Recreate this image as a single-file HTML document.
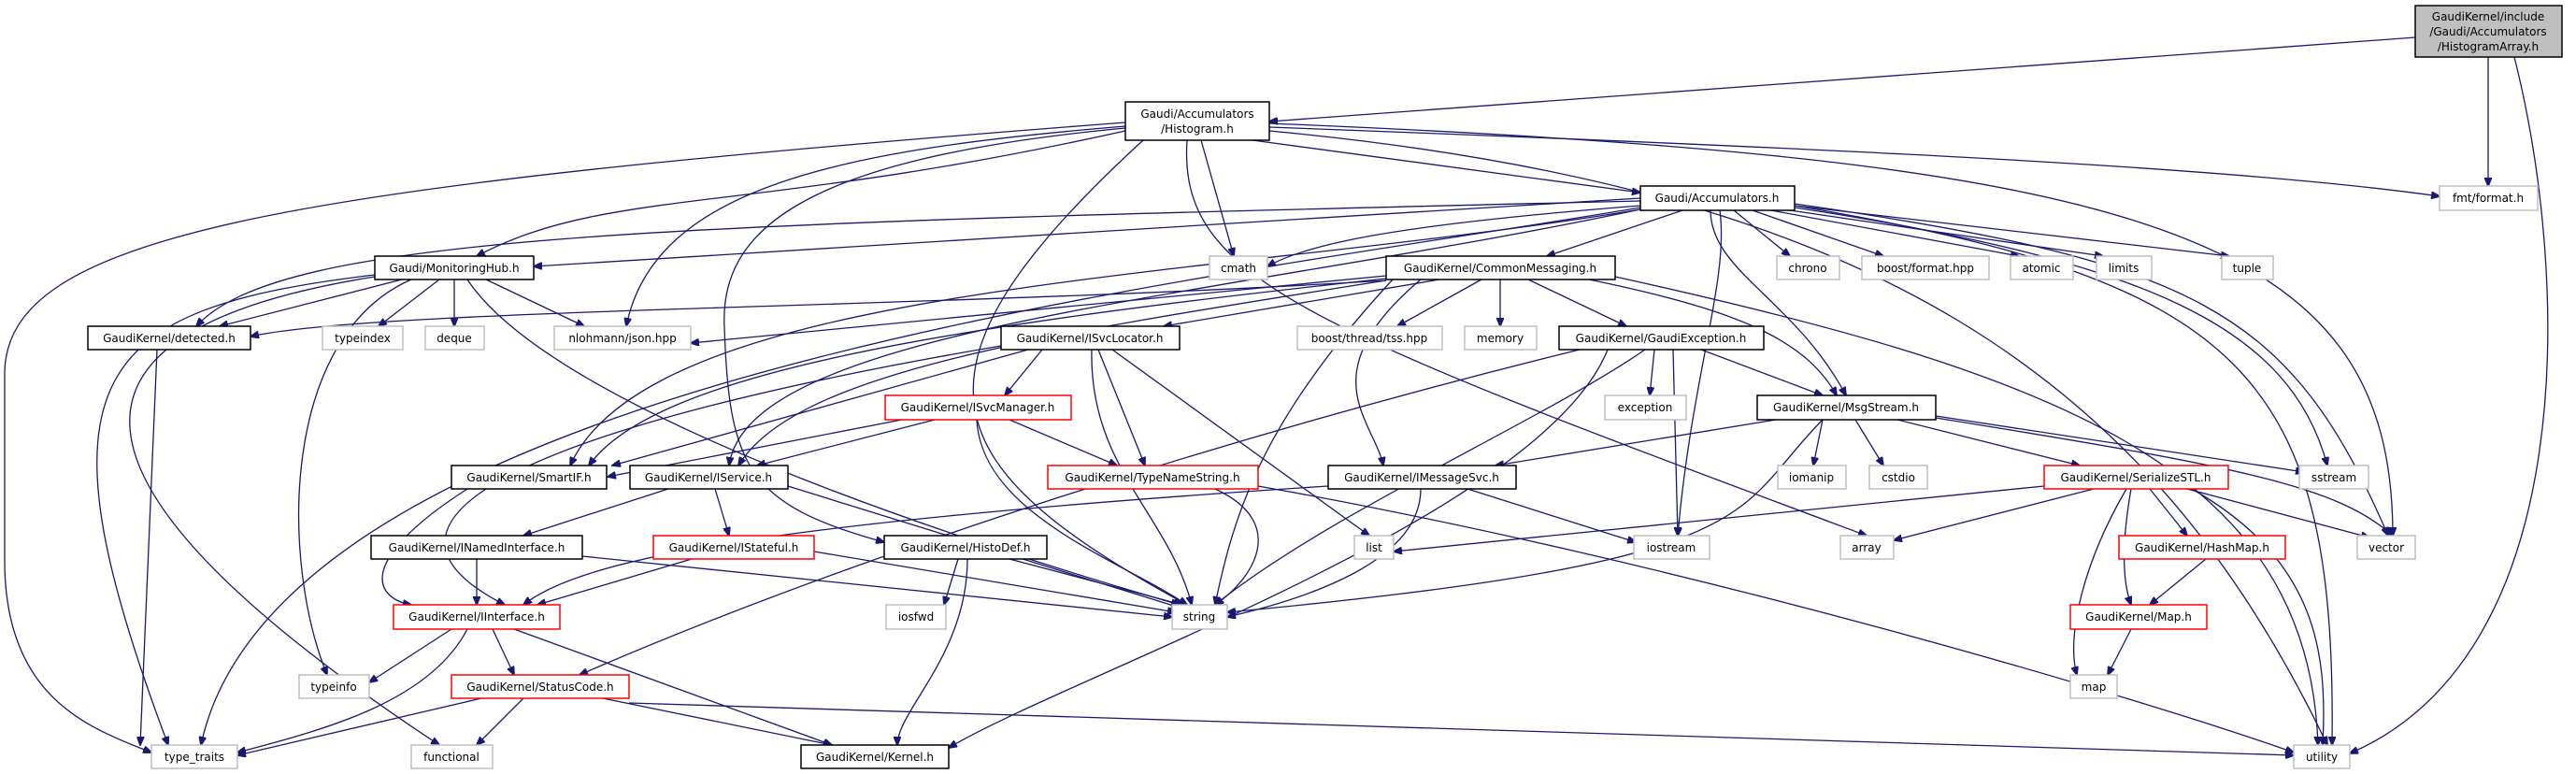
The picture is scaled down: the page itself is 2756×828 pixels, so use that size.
<!DOCTYPE html>
<html><head><meta charset="utf-8"><style>
html,body{margin:0;padding:0;background:#fff;}
svg{display:block}
text{font-family:"DejaVu Sans","Liberation Sans",sans-serif;font-size:12px;fill:#000}
.e{fill:none;stroke:#191970;stroke-width:1.3}
.n{fill:#fff;stroke:#000;stroke-width:1.5}
.x{fill:#fff;stroke:#bfbfbf;stroke-width:1.5}
.r{fill:#fff;stroke:#ff0000;stroke-width:1.5}
</style></head><body>
<svg width="2756" height="828" viewBox="0 0 2756 828" xmlns="http://www.w3.org/2000/svg">
<defs><marker id="a" markerWidth="10" markerHeight="8" refX="9" refY="4" orient="auto" markerUnits="userSpaceOnUse"><path d="M0,0 L10,4 L0,8 z" fill="#191970" stroke="#191970"/></marker></defs>
<g class="e" marker-end="url(#a)">
<!-- HistogramArray -->
<path d="M2584,40 L1358,130"/>
<path d="M2662,61 L2662,199"/>
<path d="M2690,61 C2750,300 2760,700 2514,806"/>
<!-- Histogram.h -->
<path d="M1340,150 L1755,206"/>
<path d="M1358,136 C2000,160 2400,180 2610,210"/>
<path d="M1204,131 C300,200 5,250 5,400 L5,600 C5,750 100,780 162,805"/>
<path d="M1204,140 C800,230 650,200 510,274"/>
<path d="M1204,135 C900,160 700,200 670,349"/>
<path d="M1204,137 C850,170 770,250 775,350 C780,500 800,540 946,580"/>
<path d="M1223,150 C950,400 1000,500 1270,647"/>
<path d="M1285,150 L1320,274"/>
<path d="M1270,150 C1260,300 1400,350 1997,573"/>
<path d="M1358,132 C2300,170 2560,250 2560,573"/>
<path d="M1358,140 C2000,200 2300,400 2490,797"/>
<!-- Accumulators.h -->
<path d="M1800,225 L1655,274"/>
<path d="M1855,225 L1915,274"/>
<path d="M1875,225 L2015,274"/>
<path d="M1895,225 L2160,274"/>
<path d="M1915,225 L2250,274"/>
<path d="M1920,220 L2385,274"/>
<path d="M1755,212 L571,285"/>
<path d="M1755,215 C700,240 300,250 210,349"/>
<path d="M1755,220 C1500,240 1400,260 1356,285"/>
<path d="M1830,225 C1830,290 1920,320 1975,423"/>
<path d="M1840,225 C1850,300 1810,400 1795,573"/>
<path d="M1920,222 C2300,280 2450,350 2490,498"/>
<path d="M1920,220 C2400,300 2500,400 2495,797"/>
<path d="M1920,218 C2350,280 2450,330 2555,573"/>
<path d="M1755,222 C1300,300 300,400 215,797"/>
<path d="M1755,224 C1300,300 700,300 610,498"/>
<path d="M1755,224 C1300,320 800,350 780,498"/>
<!-- CommonMessaging -->
<path d="M1585,299 L1495,349"/>
<path d="M1605,299 L1605,349"/>
<path d="M1635,299 L1740,349"/>
<path d="M1540,299 L1245,349"/>
<path d="M1483,295 L739,367"/>
<path d="M1483,300 C1000,330 400,330 268,360"/>
<path d="M1700,299 C1850,330 1930,360 1965,423"/>
<path d="M1520,299 C1400,400 1470,450 1480,498"/>
<path d="M1728,296 C2200,400 2470,500 2480,797"/>
<path d="M1490,299 C1350,450 1320,550 1300,647"/>
<path d="M1483,298 C1000,350 700,400 630,498"/>
<path d="M1483,300 C1100,360 850,400 790,498"/>
<!-- MonitoringHub -->
<path d="M430,299 L235,349"/>
<path d="M470,299 L405,349"/>
<path d="M486,299 L486,349"/>
<path d="M520,299 L625,349"/>
<path d="M440,299 C300,360 300,600 350,722"/>
<path d="M401,296 C60,350 20,500 470,797"/>
<path d="M500,299 C600,450 1100,600 1262,647"/>
<path d="M401,294 C100,330 30,400 180,797"/>
<!-- detected -->
<path d="M168,374 L150,797"/>
<!-- ISvcLocator -->
<path d="M1115,374 L1075,423"/>
<path d="M1175,374 L1225,498"/>
<path d="M1100,374 L655,498"/>
<path d="M1071,370 C600,450 350,550 540,647"/>
<path d="M1190,374 L1465,573"/>
<path d="M1168,374 C1165,500 1250,550 1275,647"/>
<!-- GaudiException -->
<path d="M1770,374 L1765,423"/>
<path d="M1820,374 L1950,423"/>
<path d="M1690,374 C1300,470 900,600 620,722"/>
<path d="M1720,374 C1650,550 1150,720 1015,800"/>
<path d="M1790,374 L1795,573"/>
<path d="M1760,374 C1650,450 1420,550 1300,647"/>
<!-- ISvcManager -->
<path d="M965,449 L650,510"/>
<path d="M1000,449 L810,498"/>
<path d="M1080,449 L1195,498"/>
<path d="M1045,449 C1050,550 1200,600 1270,647"/>
<!-- MsgStream -->
<path d="M1900,449 L1600,498"/>
<path d="M1950,449 L1940,498"/>
<path d="M1985,449 L2015,498"/>
<path d="M2030,449 L2225,498"/>
<path d="M2071,445 L2465,505"/>
<path d="M2071,447 C2400,500 2500,520 2560,573"/>
<path d="M1950,449 C1850,550 1900,600 1313,655"/>
<!-- SmartIF / IService -->
<path d="M500,523 C380,600 400,640 440,647"/>
<path d="M715,523 L560,573"/>
<path d="M765,523 L780,573"/>
<path d="M843,520 L1262,650"/>
<!-- TypeNameString -->
<path d="M1300,523 C1380,560 1340,620 1300,647"/>
<path d="M1346,520 C1800,600 2300,750 2454,805"/>
<!-- IMessageSvc -->
<path d="M1421,520 C800,560 620,600 560,647"/>
<path d="M1570,523 L1750,580"/>
<path d="M1520,523 C1520,600 1400,640 1313,660"/>
<!-- SerializeSTL -->
<path d="M2187,520 L1491,590"/>
<path d="M2240,523 L2026,578"/>
<path d="M2300,523 L2340,573"/>
<path d="M2280,523 C2270,580 2270,620 2280,647"/>
<path d="M2275,523 C2230,600 2210,680 2222,722"/>
<path d="M2340,523 L2535,575"/>
<path d="M2345,523 C2480,600 2490,700 2485,797"/>
<!-- INamedInterface, IStateful, HistoDef -->
<path d="M510,598 L510,647"/>
<path d="M623,595 L1254,660"/>
<path d="M740,598 L575,647"/>
<path d="M871,590 L1258,655"/>
<path d="M1025,598 L1010,647"/>
<path d="M1080,598 L1265,647"/>
<path d="M1035,598 C1035,700 960,760 960,797"/>
<!-- HashMap, Map -->
<path d="M2360,598 L2300,647"/>
<path d="M2280,673 L2255,722"/>
<!-- IInterface -->
<path d="M483,673 L395,730"/>
<path d="M527,673 L550,722"/>
<path d="M500,673 C460,750 350,780 254,805"/>
<path d="M550,673 L890,797"/>
<!-- StatusCode -->
<path d="M515,747 L254,808"/>
<path d="M560,747 L510,797"/>
<path d="M645,747 L890,797"/>
<path d="M673,752 L2454,808"/>
</g>
<!-- nodes -->
<g>
<rect x="2584" y="6" width="157" height="55" fill="#bfbfbf" stroke="#000" stroke-width="1.5"/>
<text x="2662" y="22" text-anchor="middle">GaudiKernel/include</text>
<text x="2662" y="38" text-anchor="middle">/Gaudi/Accumulators</text>
<text x="2662" y="54" text-anchor="middle">/HistogramArray.h</text>
<rect class="n" x="1204" y="109" width="154" height="41"/>
<text x="1281" y="126" text-anchor="middle">Gaudi/Accumulators</text>
<text x="1281" y="142" text-anchor="middle">/Histogram.h</text>
</g>
<g id="nodes">
<rect class="n" x="1755" y="199" width="165" height="26"/><text x="1837" y="216" text-anchor="middle">Gaudi/Accumulators.h</text>
<rect class="x" x="2610" y="199" width="105" height="26"/><text x="2662" y="216" text-anchor="middle">fmt/format.h</text>
<rect class="n" x="401" y="274" width="170" height="25"/><text x="486" y="291" text-anchor="middle">Gaudi/MonitoringHub.h</text>
<rect class="x" x="1294" y="274" width="62" height="25"/><text x="1325" y="291" text-anchor="middle">cmath</text>
<rect class="n" x="1483" y="274" width="245" height="25"/><text x="1605" y="291" text-anchor="middle">GaudiKernel/CommonMessaging.h</text>
<rect class="x" x="1901" y="274" width="67" height="25"/><text x="1934" y="291" text-anchor="middle">chrono</text>
<rect class="x" x="1992" y="274" width="136" height="25"/><text x="2060" y="291" text-anchor="middle">boost/format.hpp</text>
<rect class="x" x="2151" y="274" width="67" height="25"/><text x="2184" y="291" text-anchor="middle">atomic</text>
<rect class="x" x="2243" y="274" width="59" height="25"/><text x="2272" y="291" text-anchor="middle">limits</text>
<rect class="x" x="2377" y="274" width="55" height="25"/><text x="2404" y="291" text-anchor="middle">tuple</text>
<rect class="n" x="94" y="349" width="174" height="25"/><text x="181" y="366" text-anchor="middle">GaudiKernel/detected.h</text>
<rect class="x" x="345" y="349" width="86" height="25"/><text x="388" y="366" text-anchor="middle">typeindex</text>
<rect class="x" x="455" y="349" width="63" height="25"/><text x="486" y="366" text-anchor="middle">deque</text>
<rect class="x" x="593" y="349" width="146" height="25"/><text x="666" y="366" text-anchor="middle">nlohmann/json.hpp</text>
<rect class="n" x="1071" y="349" width="191" height="25"/><text x="1166" y="366" text-anchor="middle">GaudiKernel/ISvcLocator.h</text>
<rect class="x" x="1388" y="349" width="155" height="25"/><text x="1465" y="366" text-anchor="middle">boost/thread/tss.hpp</text>
<rect class="x" x="1567" y="349" width="77" height="25"/><text x="1605" y="366" text-anchor="middle">memory</text>
<rect class="n" x="1668" y="349" width="219" height="25"/><text x="1777" y="366" text-anchor="middle">GaudiKernel/GaudiException.h</text>
<rect class="r" x="947" y="423" width="199" height="26"/><text x="1046" y="440" text-anchor="middle">GaudiKernel/ISvcManager.h</text>
<rect class="x" x="1717" y="423" width="87" height="26"/><text x="1760" y="440" text-anchor="middle">exception</text>
<rect class="n" x="1880" y="423" width="191" height="26"/><text x="1975" y="440" text-anchor="middle">GaudiKernel/MsgStream.h</text>
<rect class="n" x="483" y="498" width="166" height="25"/><text x="566" y="515" text-anchor="middle">GaudiKernel/SmartIF.h</text>
<rect class="n" x="674" y="498" width="169" height="25"/><text x="758" y="515" text-anchor="middle">GaudiKernel/IService.h</text>
<rect class="r" x="1121" y="498" width="225" height="25"/><text x="1233" y="515" text-anchor="middle">GaudiKernel/TypeNameString.h</text>
<rect class="n" x="1421" y="498" width="201" height="25"/><text x="1521" y="515" text-anchor="middle">GaudiKernel/IMessageSvc.h</text>
<rect class="x" x="1902" y="498" width="73" height="25"/><text x="1938" y="515" text-anchor="middle">iomanip</text>
<rect class="x" x="2000" y="498" width="62" height="25"/><text x="2031" y="515" text-anchor="middle">cstdio</text>
<rect class="r" x="2187" y="498" width="197" height="25"/><text x="2285" y="515" text-anchor="middle">GaudiKernel/SerializeSTL.h</text>
<rect class="x" x="2460" y="498" width="74" height="25"/><text x="2497" y="515" text-anchor="middle">sstream</text>
<rect class="n" x="397" y="573" width="226" height="25"/><text x="510" y="590" text-anchor="middle">GaudiKernel/INamedInterface.h</text>
<rect class="r" x="699" y="573" width="172" height="25"/><text x="785" y="590" text-anchor="middle">GaudiKernel/IStateful.h</text>
<rect class="n" x="946" y="573" width="174" height="25"/><text x="1033" y="590" text-anchor="middle">GaudiKernel/HistoDef.h</text>
<rect class="x" x="1449" y="573" width="42" height="25"/><text x="1470" y="590" text-anchor="middle">list</text>
<rect class="x" x="1748" y="573" width="81" height="25"/><text x="1788" y="590" text-anchor="middle">iostream</text>
<rect class="x" x="1969" y="573" width="57" height="25"/><text x="1997" y="590" text-anchor="middle">array</text>
<rect class="r" x="2267" y="573" width="178" height="25"/><text x="2356" y="590" text-anchor="middle">GaudiKernel/HashMap.h</text>
<rect class="x" x="2522" y="573" width="62" height="25"/><text x="2553" y="590" text-anchor="middle">vector</text>
<rect class="r" x="421" y="647" width="178" height="26"/><text x="510" y="664" text-anchor="middle">GaudiKernel/IInterface.h</text>
<rect class="x" x="948" y="647" width="64" height="26"/><text x="980" y="664" text-anchor="middle">iosfwd</text>
<rect class="x" x="1254" y="647" width="59" height="26"/><text x="1283" y="664" text-anchor="middle">string</text>
<rect class="r" x="2215" y="647" width="146" height="26"/><text x="2288" y="664" text-anchor="middle">GaudiKernel/Map.h</text>
<rect class="x" x="320" y="722" width="75" height="25"/><text x="357" y="739" text-anchor="middle">typeinfo</text>
<rect class="r" x="483" y="722" width="190" height="25"/><text x="578" y="739" text-anchor="middle">GaudiKernel/StatusCode.h</text>
<rect class="x" x="2215" y="722" width="50" height="25"/><text x="2240" y="739" text-anchor="middle">map</text>
<rect class="x" x="162" y="797" width="92" height="25"/><text x="208" y="814" text-anchor="middle">type_traits</text>
<rect class="x" x="440" y="797" width="87" height="25"/><text x="483" y="814" text-anchor="middle">functional</text>
<rect class="n" x="857" y="797" width="158" height="25"/><text x="936" y="814" text-anchor="middle">GaudiKernel/Kernel.h</text>
<rect class="x" x="2454" y="797" width="60" height="25"/><text x="2484" y="814" text-anchor="middle">utility</text>
</g>
</svg>
</body></html>
